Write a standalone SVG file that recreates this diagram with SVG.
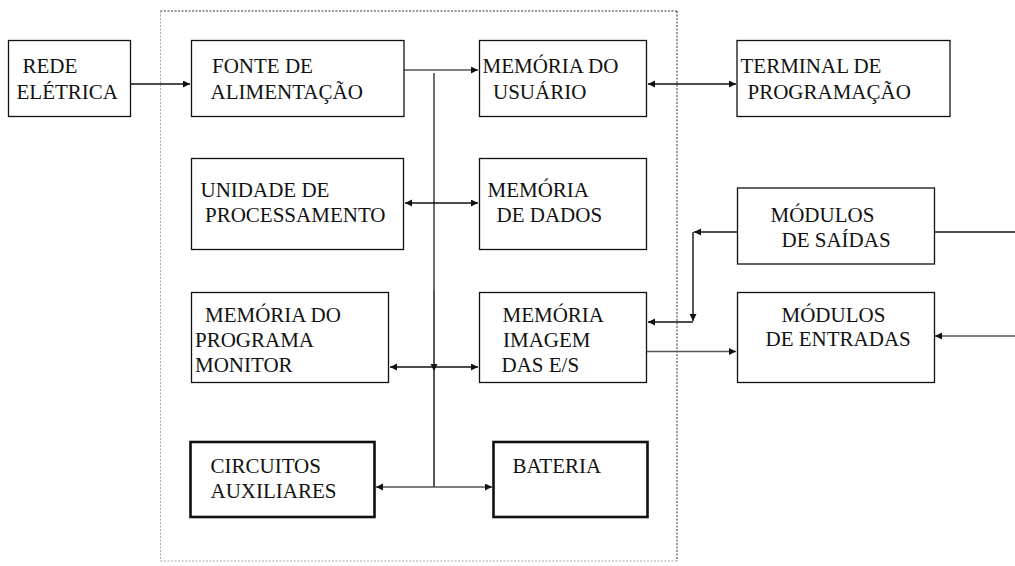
<svg xmlns="http://www.w3.org/2000/svg" width="1015" height="566" viewBox="0 0 1015 566">
<style>
  .box { fill: #fff; stroke: #111; stroke-width: 1.3; }
  .thick { fill: #fff; stroke: #111; stroke-width: 2.6; }
  .ln { fill: none; stroke: #111; stroke-width: 1.4; }
  .lg { fill: none; stroke: #555; stroke-width: 1.7; }
  .frame-dark { fill: none; stroke: #333; stroke-width: 1; stroke-dasharray: 2 1.5; }
  .frame-light { fill: none; stroke: #aaa; stroke-width: 1; stroke-dasharray: 2 1.5; }
</style>
<defs>
  <marker id="ah" markerUnits="userSpaceOnUse" markerWidth="8" markerHeight="8" refX="7" refY="3.5" orient="auto-start-reverse">
    <path d="M0,0 L7,3.5 L0,7 z" fill="#111"/>
  </marker>
</defs>

<g id="frame">
  <line class="frame-dark" x1="160.5" y1="11" x2="677" y2="11"/>
  <line class="frame-light" x1="160.5" y1="11" x2="160.5" y2="561"/>
  <line class="frame-dark" x1="677" y1="11" x2="677" y2="561"/>
  <line class="frame-light" x1="160.5" y1="561" x2="677" y2="561"/>
</g>

<g id="connectors">
  <line class="ln" x1="130" y1="84" x2="190" y2="84" marker-end="url(#ah)"/>
  <line class="lg" x1="404" y1="70" x2="478" y2="70" marker-end="url(#ah)"/>
  <line class="ln" x1="648" y1="84" x2="736" y2="84" marker-start="url(#ah)" marker-end="url(#ah)"/>
  <line class="lg" x1="434" y1="73" x2="434" y2="290"/>
  <line class="ln" x1="434" y1="290" x2="434" y2="487"/>
  <line class="ln" x1="405" y1="203" x2="478" y2="203" marker-start="url(#ah)" marker-end="url(#ah)"/>
  <line class="ln" x1="390" y1="367" x2="478" y2="367" marker-start="url(#ah)" marker-end="url(#ah)"/>
  <path d="M430.5,364 L437.5,364 L434,371 z" fill="#111"/>
  <line class="lg" x1="376" y1="487" x2="492" y2="487" marker-start="url(#ah)" marker-end="url(#ah)"/>
  <line class="ln" x1="737" y1="232" x2="694" y2="232" marker-end="url(#ah)"/>
  <line class="ln" x1="693" y1="232" x2="693" y2="321" marker-end="url(#ah)"/>
  <line class="ln" x1="693" y1="322" x2="648" y2="322" marker-end="url(#ah)"/>
  <line class="ln" x1="934" y1="232" x2="1015" y2="232"/>
  <line class="lg" x1="1015" y1="336" x2="935" y2="336" marker-end="url(#ah)"/>
  <line class="lg" x1="647" y1="351.5" x2="736" y2="351.5" marker-end="url(#ah)"/>
</g>

<g font-family="Liberation Serif, Times New Roman, Times, serif" font-size="21" fill="#111">
<g id="rede">
  <rect class="box" x="8.5" y="40.5" width="122" height="76"/>
  <text x="22.5" y="73">REDE</text>
  <text x="16.5" y="99">ELÉTRICA</text>
</g>
<g id="fonte">
  <rect class="box" x="191.5" y="40.5" width="212.5" height="76"/>
  <text x="212" y="73">FONTE DE</text>
  <text x="210.5" y="99">ALIMENTAÇÃO</text>
</g>
<g id="mem-usuario">
  <rect class="box" x="479.5" y="40.5" width="167" height="76"/>
  <text x="482.5" y="73">MEMÓRIA DO</text>
  <text x="493" y="98.5">USUÁRIO</text>
</g>
<g id="terminal">
  <rect class="box" x="737" y="40.5" width="213" height="76"/>
  <text x="740.5" y="73">TERMINAL DE</text>
  <text x="747.5" y="98.5">PROGRAMAÇÃO</text>
</g>
<g id="unidade">
  <rect class="box" x="191.5" y="158.5" width="212" height="91"/>
  <text x="200.5" y="197">UNIDADE DE</text>
  <text x="205" y="222">PROCESSAMENTO</text>
</g>
<g id="mem-dados">
  <rect class="box" x="479.5" y="158.5" width="167" height="91"/>
  <text x="487.5" y="197">MEMÓRIA</text>
  <text x="496.5" y="222">DE DADOS</text>
</g>
<g id="mem-programa">
  <rect class="box" x="191.5" y="292.5" width="197" height="90"/>
  <text x="205" y="322">MEMÓRIA DO</text>
  <text x="195" y="347">PROGRAMA</text>
  <text x="195" y="372">MONITOR</text>
</g>
<g id="mem-imagem">
  <rect class="box" x="479.5" y="292.5" width="167" height="90"/>
  <text x="502.5" y="322">MEMÓRIA</text>
  <text x="503" y="347">IMAGEM</text>
  <text x="501.5" y="372">DAS E/S</text>
</g>
<g id="circuitos">
  <rect class="thick" x="190.5" y="442" width="184" height="75"/>
  <text x="210.5" y="472.5">CIRCUITOS</text>
  <text x="210.5" y="497.5">AUXILIARES</text>
</g>
<g id="bateria">
  <rect class="thick" x="493.5" y="442" width="154" height="75"/>
  <text x="512.5" y="472.5">BATERIA</text>
</g>
<g id="saidas">
  <rect class="box" x="737.5" y="188" width="197" height="76"/>
  <text x="770.5" y="222">MÓDULOS</text>
  <text x="781.5" y="247">DE SAÍDAS</text>
</g>
<g id="entradas">
  <rect class="box" x="737.5" y="292.5" width="197" height="90"/>
  <text x="781.5" y="322">MÓDULOS</text>
  <text x="765.5" y="346">DE ENTRADAS</text>
</g>
</g>
</svg>
